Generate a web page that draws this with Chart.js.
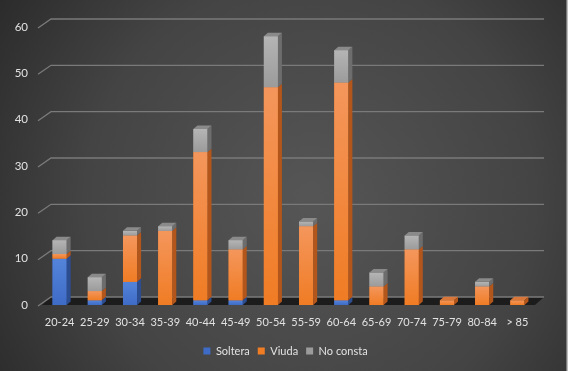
<!DOCTYPE html>
<html>
<head>
<meta charset="utf-8">
<script src="https://cdn.jsdelivr.net/npm/chart.js@4.4.0/dist/chart.umd.min.js"></script>
<style>
  html, body { margin: 0; padding: 0; background: #333; }
  #wrap { width: 568px; height: 371px; }
</style>
</head>
<body>
<div id="wrap"><canvas id="grafico" width="568" height="371"></canvas></div>
<script>
  // Datos
  const grupos = ['20-24', '25-29', '30-34', '35-39', '40-44', '45-49', '50-54', '55-59', '60-64', '65-69', '70-74', '75-79', '80-84', '> 85'];
  const soltera = [10, 1, 5, 0, 1, 1, 0, 0, 1, 0, 0, 0, 0, 0];
  const viuda = [1, 2, 10, 16, 32, 11, 47, 17, 47, 4, 12, 1, 4, 1];
  const noConsta = [3, 3, 1, 1, 5, 2, 11, 1, 7, 3, 3, 0, 1, 0];
  const yTicks = [0, 10, 20, 30, 40, 50, 60];

  // colores: base, arriba (claro), lado, tapa
  const tonos = [
    { base: '#3e6bc6', top: '#5484da', side: '#2c4d90', cap: '#4a73c4' },
    { base: '#f07c24', top: '#f4965c', side: '#b3561c', cap: '#d9773a' },
    { base: '#9b9b9b', top: '#b5b5b5', side: '#6d6d6d', cap: '#8a8a8a' },
  ];

  // profundidad del fondo y de las barras
  const FONDO_DX = 9, FONDO_DY = 8;
  const BARRA_DX = 4, BARRA_DY = 3.5;

  const fondo = {
    id: 'fondo',
    beforeDraw(chart) {
      const { ctx, width, height } = chart;
      ctx.save();
      const g = ctx.createRadialGradient(310, 200, 10, 310, 200, 400);
      g.addColorStop(0, '#555555');
      g.addColorStop(0.55, '#444444');
      g.addColorStop(1, '#262626');
      ctx.fillStyle = g;
      ctx.fillRect(0, 0, width, height);
      ctx.fillStyle = '#bdbdbd';
      ctx.fillRect(width - 1.5, 0, 1.5, height);
      ctx.restore();
    }
  };

  // la leyenda del original esta algo desplazada a la derecha
  const moverLeyenda = {
    id: 'moverLeyenda',
    afterLayout(chart) {
      if (!chart.legend) return;
      chart.legend.left += 18;
      chart.legend.right += 18;
    }
  };

  const piso = {
    id: 'piso',
    beforeDatasetsDraw(chart) {
      const { ctx, chartArea: a, scales: { y } } = chart;
      const y0 = y.getPixelForValue(0);
      ctx.save();
      // suelo oscuro
      ctx.fillStyle = '#1c1c1c';
      ctx.beginPath();
      ctx.moveTo(a.left, y0);
      ctx.lineTo(a.right, y0);
      ctx.lineTo(a.right + FONDO_DX, y0 - FONDO_DY);
      ctx.lineTo(a.left + FONDO_DX, y0 - FONDO_DY);
      ctx.closePath();
      ctx.fill();
      // lineas de division en el plano de fondo
      ctx.strokeStyle = '#7a7a7a';
      ctx.lineWidth = 1.3;
      yTicks.forEach(v => {
        const py = y.getPixelForValue(v);
        ctx.beginPath();
        ctx.moveTo(a.left - 4, py + 1);
        ctx.lineTo(a.left + FONDO_DX, py - FONDO_DY);
        ctx.lineTo(a.right + FONDO_DX, py - FONDO_DY);
        ctx.stroke();
      });
      ctx.restore();
    }
  };

  const barras3d = {
    id: 'barras3d',
    afterDatasetsDraw(chart) {
      const { ctx } = chart;
      const sets = chart.data.datasets;
      ctx.save();
      grupos.forEach((_, i) => {
        let ultimo = -1;
        sets.forEach((ds, d) => { if (ds.data[i] > 0) ultimo = d; });
        sets.forEach((ds, d) => {
          if (!(ds.data[i] > 0)) return;
          const el = chart.getDatasetMeta(d).data[i];
          const { x, y, base, width } = el;
          const l = x - width / 2, r = x + width / 2;
          const t = tonos[d];
          // cara frontal con degradado
          const g = ctx.createLinearGradient(0, y, 0, base);
          g.addColorStop(0, t.top);
          g.addColorStop(1, t.base);
          ctx.fillStyle = g;
          ctx.fillRect(l, y, width, base - y);
          // lado derecho
          ctx.fillStyle = t.side;
          ctx.beginPath();
          ctx.moveTo(r, y);
          ctx.lineTo(r + BARRA_DX, y - BARRA_DY);
          ctx.lineTo(r + BARRA_DX, base - BARRA_DY);
          ctx.lineTo(r, base);
          ctx.closePath();
          ctx.fill();
          // tapa superior
          if (d === ultimo) {
            ctx.fillStyle = t.cap;
            ctx.beginPath();
            ctx.moveTo(l, y);
            ctx.lineTo(r, y);
            ctx.lineTo(r + BARRA_DX, y - BARRA_DY);
            ctx.lineTo(l + BARRA_DX, y - BARRA_DY);
            ctx.closePath();
            ctx.fill();
          }
        });
      });
      ctx.restore();
    }
  };

  Chart.defaults.font.family = 'Lato, "Open Sans", sans-serif';
  Chart.defaults.font.size = 11;
  Chart.defaults.color = '#e2e2e2';

  new Chart(document.getElementById('grafico'), {
    type: 'bar',
    data: {
      labels: grupos,
      datasets: [
        { label: 'Soltera', data: soltera, backgroundColor: tonos[0].base, borderWidth: 0 },
        { label: 'Viuda', data: viuda, backgroundColor: tonos[1].base, borderWidth: 0 },
        { label: 'No consta', data: noConsta, backgroundColor: tonos[2].base, borderWidth: 0 },
      ]
    },
    options: {
      responsive: false,
      animation: false,
      devicePixelRatio: 1,
      layout: { padding: { top: 27, right: 33, left: 0, bottom: 4.5 } },
      datasets: { bar: { barPercentage: 0.4, categoryPercentage: 1 } },
      scales: {
        x: {
          stacked: true,
          grid: { display: false, drawTicks: false },
          border: { display: false },
          ticks: { padding: 11, maxRotation: 0, autoSkip: false },
          afterFit: (s) => { s.height = 32.5; }
        },
        y: {
          stacked: true,
          min: 0,
          max: 60,
          grid: { display: false, drawTicks: false },
          border: { display: false },
          afterBuildTicks: (s) => { s.ticks = yTicks.map(v => ({ value: v })); },
          ticks: { padding: 14, font: { size: 11.5 } },
          afterFit: (s) => { s.width = 42; }
        }
      },
      plugins: {
        legend: {
          position: 'bottom',
          labels: { boxWidth: 7, boxHeight: 7, padding: 8 }
        },
        tooltip: { enabled: false }
      }
    },
    plugins: [fondo, moverLeyenda, piso, barras3d]
  });
</script>
</body>
</html>
